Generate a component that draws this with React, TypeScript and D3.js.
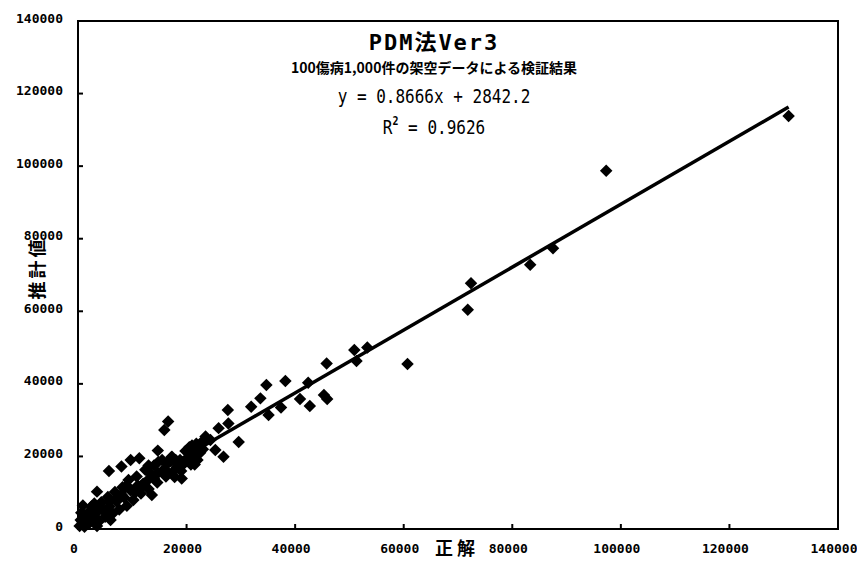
import React, { useEffect, useRef } from 'react';
import * as d3 from 'd3';

// 正解 (x) / 推計値 (y) pairs
const correct = [
  130900, 97300, 72400, 71800, 83300, 87500, 60700, 50900, 53300, 51300,
  45800, 38200, 34700, 42400, 40900, 42700, 45300, 45900, 37400, 35100,
  33600, 31900, 27600, 25900, 27700, 29600, 26800, 25300, 16600, 15900,
  14700, 19100, 11300, 9700, 8000, 5700, 13600, 11700, 3500, 14700,
  17300, 20000, 21000, 22000, 21500, 20500, 22500, 21800, 20800, 23000,
  24400, 23500,
  300, 800, 1200, 1500, 600, 900, 2000, 2200, 2700, 3000,
  3400, 3800, 4300, 4600, 5000, 5500, 5800, 6400, 6800, 7100,
  7600, 8200, 8500, 9000, 9300, 9700, 10200, 10800, 11000, 11600,
  12400, 12700, 13000, 13500, 14000, 14800, 14600, 15500, 16200, 16500,
  17200, 17300, 18200, 18800, 19500, 17800, 5000, 7500, 11000, 3000,
  1000, 2500, 4000, 6000, 8000, 10500, 12000, 14000, 16000, 18000,
  19000, 20500, 21000, 22000, 1800, 500, 3500, 6000, 9000, 13000,
  15500, 19800, 22800, 21500,
];
const estimated = [
  113800, 98700, 67700, 60400, 72800, 77400, 45500, 49300, 50000, 46300,
  45600, 40800, 39700, 40300, 35800, 33900, 36900, 35800, 33500, 31400,
  36000, 33700, 32800, 27800, 29100, 24000, 19900, 21800, 29600, 27300,
  21600, 13900, 19500, 19000, 17200, 16000, 9400, 11500, 10300, 15400,
  19900, 19000, 21000, 22500, 19500, 22500, 21000, 23500, 17800, 22000,
  24500, 25500,
  800, 2000, 600, 3200, 4500, 6500, 1500, 5000, 2800, 7000,
  4500, 2000, 7400, 5200, 3400, 8800, 6200, 4300, 10200, 7600,
  5400, 11500, 8700, 6400, 13500, 10600, 8000, 14500, 12000, 9800,
  16300, 13200, 11000, 15000, 17500, 18500, 12800, 16000, 14500, 18200,
  19800, 15500, 17000, 19000, 18000, 14300, 5000, 8500, 11500, 3500,
  4000, 6200, 6000, 8000, 9500, 10000, 12500, 14000, 16500, 19000,
  16000, 20000, 23000, 19000, 2500, 2500, 800, 2500, 12000, 17500,
  19000, 21500, 24000, 17800,
];

const axisTicks = [0, 20000, 40000, 60000, 80000, 100000, 120000, 140000];
const slope = 0.8666;
const intercept = 2842.2;
const fitRange = [0, 130900];

const title = 'PDM法Ver3';
const subtitle = '100傷病1,000件の架空データによる検証結果';
const equation = 'y = 0.8666x + 2842.2';
const rSquared = '0.9626';

const W = 857;
const H = 564;

export default function App() {
  const ref = useRef<SVGSVGElement>(null);

  useEffect(() => {
    const svg = d3.select(ref.current);
    svg.selectAll('*').remove();

    const x = d3.scaleLinear().domain([0, 140000]).range([78, 838]);
    const y = d3.scaleLinear().domain([0, 140000]).range([529, 21]);

    const mono = '"DejaVu Sans Mono", "Liberation Mono", monospace';
    const cjk = '"Noto Sans CJK JP", "Noto Sans", sans-serif';

    // plot frame
    svg
      .append('rect')
      .attr('x', x(0))
      .attr('y', y(140000))
      .attr('width', x(140000) - x(0))
      .attr('height', y(0) - y(140000))
      .attr('fill', 'none')
      .attr('stroke', '#000')
      .attr('stroke-width', 2);

    // tick marks, pointing inward
    svg
      .append('g')
      .selectAll('line')
      .data(axisTicks.slice(1, -1))
      .enter()
      .append('line')
      .attr('x1', x(0))
      .attr('x2', x(0) + 5)
      .attr('y1', d => y(d))
      .attr('y2', d => y(d))
      .attr('stroke', '#000')
      .attr('stroke-width', 2);

    svg
      .append('g')
      .selectAll('line')
      .data(axisTicks.slice(1, -1))
      .enter()
      .append('line')
      .attr('x1', d => x(d))
      .attr('x2', d => x(d))
      .attr('y1', y(0))
      .attr('y2', y(0) - 5)
      .attr('stroke', '#000')
      .attr('stroke-width', 2);

    // tick labels
    svg
      .append('g')
      .selectAll('text')
      .data(axisTicks)
      .enter()
      .append('text')
      .attr('x', 63)
      .attr('y', d => y(d) - 3)
      .attr('dy', '0.35em')
      .attr('text-anchor', 'end')
      .attr('font-family', mono)
      .attr('font-weight', 'bold')
      .attr('font-size', 13)
      .text(d => String(d));

    svg
      .append('g')
      .selectAll('text')
      .data(axisTicks)
      .enter()
      .append('text')
      .attr('x', d => x(d) - 4)
      .attr('y', 553)
      .attr('text-anchor', 'middle')
      .attr('font-family', mono)
      .attr('font-weight', 'bold')
      .attr('font-size', 13)
      .text(d => String(d));

    // axis titles
    svg
      .append('text')
      .attr('transform', 'translate(44,268) rotate(-90)')
      .attr('text-anchor', 'middle')
      .attr('font-family', cjk)
      .attr('font-weight', 'bold')
      .attr('font-size', 18)
      .attr('letter-spacing', 3)
      .text('推計値');

    svg
      .append('text')
      .attr('x', 457)
      .attr('y', 555)
      .attr('text-anchor', 'middle')
      .attr('font-family', cjk)
      .attr('font-weight', 'bold')
      .attr('font-size', 18)
      .attr('letter-spacing', 4)
      .text('正解');

    // regression line
    svg
      .append('line')
      .attr('x1', x(fitRange[0]))
      .attr('y1', y(slope * fitRange[0] + intercept))
      .attr('x2', x(fitRange[1]))
      .attr('y2', y(slope * fitRange[1] + intercept))
      .attr('stroke', '#000')
      .attr('stroke-width', 3.5);

    // diamonds
    const diamond = d3.symbol().type(d3.symbolSquare).size(78);
    svg
      .append('g')
      .selectAll('path')
      .data(correct.map((c, i) => [c, estimated[i]]))
      .enter()
      .append('path')
      .attr('d', diamond)
      .attr('transform', d => `translate(${x(d[0])},${y(d[1])}) rotate(45)`)
      .attr('fill', '#000');

    // titles
    const cx = 434;
    svg
      .append('text')
      .attr('x', cx)
      .attr('y', 50)
      .attr('text-anchor', 'middle')
      .attr('font-family', `${mono}, ${cjk}`)
      .attr('font-weight', 'bold')
      .attr('font-size', 22)
      .attr('letter-spacing', 2)
      .text(title);

    svg
      .append('text')
      .attr('x', cx)
      .attr('y', 73)
      .attr('text-anchor', 'middle')
      .attr('font-family', cjk)
      .attr('font-weight', 'bold')
      .attr('font-size', 14)
      .text(subtitle);

    svg
      .append('text')
      .attr('transform', `translate(${cx},103) scale(1,1.25)`)
      .attr('text-anchor', 'middle')
      .attr('font-family', mono)
      .attr('font-size', 16)
      .text(equation);

    const r2 = svg
      .append('text')
      .attr('transform', `translate(${cx},134) scale(1,1.25)`)
      .attr('text-anchor', 'middle')
      .attr('font-family', mono)
      .attr('font-size', 16);
    r2.append('tspan').text('R');
    r2.append('tspan').attr('font-size', 10).attr('font-weight', 'bold').attr('dy', -7).text('2');
    r2.append('tspan').attr('dy', 7).text(' = ' + rSquared);
  }, []);

  return (
    <svg
      ref={ref}
      width={W}
      height={H}
      style={{ position: 'absolute', left: 0, top: 0, background: '#fff' }}
    />
  );
}
